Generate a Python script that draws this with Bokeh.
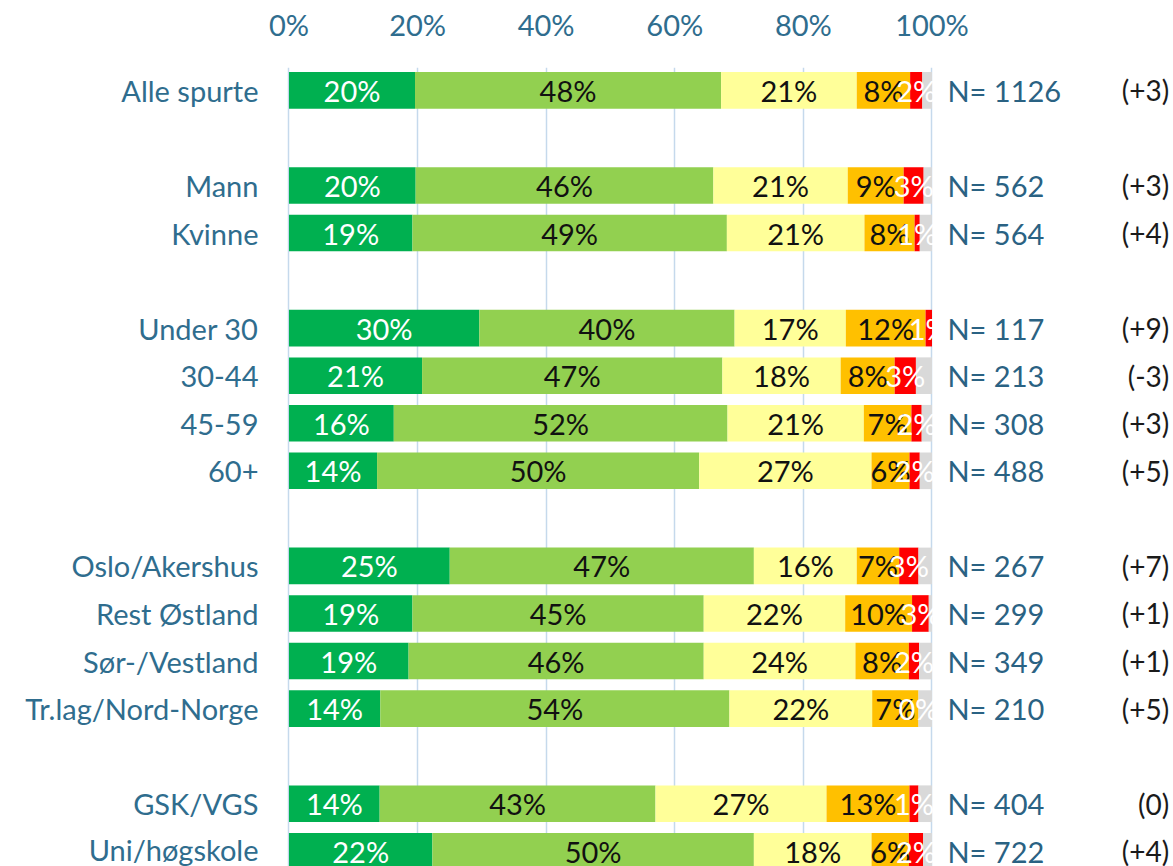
import numpy as np
from bokeh.plotting import figure
from bokeh.models import ColumnDataSource, Range1d, FixedTicker, PrintfTickFormatter
from bokeh.core.properties import value
from bokeh.embed import file_html
from bokeh.resources import INLINE

# ---------------- data ----------------
groups = ["Alle spurte", "Mann", "Kvinne", "Under 30", "30-44", "45-59", "60+",
          "Oslo/Akershus", "Rest Østland", "Sør-/Vestland", "Tr.lag/Nord-Norge",
          "GSK/VGS", "Uni/høgskole"]
slots = [0, 2, 3, 5, 6, 7, 8, 10, 11, 12, 13, 15, 16]
very_good = [19.6, 19.7, 19.2, 29.6, 20.7, 16.3, 13.7, 25.0, 19.2, 18.6, 14.2, 14.1, 22.3]
good = [47.6, 46.3, 48.9, 39.7, 46.7, 51.9, 50.1, 47.3, 45.3, 45.9, 54.3, 42.9, 50.0]
neutral = [21.1, 20.9, 21.4, 17.3, 18.4, 21.2, 26.8, 16.0, 22.0, 23.6, 22.2, 26.6, 18.3]
bad = [8.3, 8.7, 7.8, 12.4, 8.4, 7.4, 5.9, 6.6, 10.4, 8.3, 7.2, 12.9, 5.8]
very_bad = [1.9, 3.1, 0.8, 1.0, 3.3, 1.6, 1.6, 3.0, 2.6, 1.6, 0.0, 1.4, 2.2]
unknown = [1.5, 1.3, 1.9, 0.0, 2.5, 1.6, 1.9, 2.1, 0.5, 2.0, 2.1, 2.1, 1.4]
n_counts = [1126, 562, 564, 117, 213, 308, 488, 267, 299, 349, 210, 404, 722]
changes = ["(+3)", "(+3)", "(+4)", "(+9)", "(-3)", "(+3)", "(+5)",
           "(+7)", "(+1)", "(+1)", "(+5)", "(0)", "(+4)"]
x_ticks = [0, 20, 40, 60, 80, 100]

series = ["very_good", "good", "neutral", "bad", "very_bad", "unknown"]
colors = ["#00B050", "#92D050", "#FFFF99", "#FFC000", "#FF0000", "#D9D9D9"]
label_colors = ["white", "#111111", "#111111", "#111111", "white", None]

FONT = "Lato"
FS = "29px"
BLUE = "#2F6D8E"

data = dict(y=slots, very_good=very_good, good=good, neutral=neutral,
            bad=bad, very_bad=very_bad, unknown=unknown)
src = ColumnDataSource(data)

p = figure(width=1173, height=866, output_backend="svg", toolbar_location=None,
           x_range=Range1d(-1.32, 137.56), y_range=Range1d(16.32, -0.48),
           x_axis_location="above", min_border_left=280, min_border_right=0,
           min_border_top=67, min_border_bottom=0)
p.outline_line_color = None
p.background_fill_color = "white"

p.hbar_stack(series, y="y", height=0.77, color=colors, source=src, line_width=0)

# segment labels
vals = np.array([very_good, good, neutral, bad, very_bad, unknown])
cum = np.cumsum(vals, axis=0)
lx, ly, lt, lc = [], [], [], []
for i, s in enumerate(series):
    if label_colors[i] is None:
        continue
    for j in range(len(groups)):
        lx.append(cum[i, j] - vals[i, j] / 2)
        ly.append(slots[j])
        lt.append(f"{int(round(vals[i, j]))}%")
        lc.append(label_colors[i])
lsrc = ColumnDataSource(dict(x=lx, y=ly, t=lt, c=lc))
p.text(x="x", y="y", text="t", text_color="c", source=lsrc, text_align="center",
       text_baseline="middle", text_font=value(FONT), text_font_size=FS)

# N= and change labels
rsrc = ColumnDataSource(dict(y=slots, n=[f"N= {n}" for n in n_counts], ch=changes,
                             xn=[102.4] * len(slots), xc=[136.9] * len(slots)))
p.text(x="xn", y="y", text="n", source=rsrc, text_align="left", text_baseline="middle",
       text_font=value(FONT), text_font_size=FS, text_color="#2A6283")
p.text(x="xc", y="y", text="ch", source=rsrc, text_align="right", text_baseline="middle",
       text_font=value(FONT), text_font_size="28px", text_color="#1A1A1A")

# axes
xa = p.xaxis[0]
xa.ticker = FixedTicker(ticks=x_ticks)
xa.formatter = PrintfTickFormatter(format="%d%%")
xa.axis_line_color = None
xa.major_tick_line_color = None
xa.minor_tick_line_color = None
xa.major_tick_out = 0
xa.major_label_standoff = 26
xa.major_label_text_font = FONT
xa.major_label_text_font_size = FS
xa.major_label_text_color = BLUE

ya = p.yaxis[0]
ya.ticker = FixedTicker(ticks=slots)
ya.major_label_overrides = {s: g for s, g in zip(slots, groups)}
ya.axis_line_color = None
ya.major_tick_line_color = None
ya.minor_tick_line_color = None
ya.major_tick_out = 0
ya.major_label_standoff = 22
ya.major_label_text_font = FONT
ya.major_label_text_font_size = FS
ya.major_label_text_color = BLUE

p.xgrid.ticker = FixedTicker(ticks=x_ticks)
p.xgrid.grid_line_color = "#C5D9EC"
p.xgrid.grid_line_width = 1.5
p.ygrid.grid_line_color = None

open("out.html", "w").write(file_html(p, INLINE))
